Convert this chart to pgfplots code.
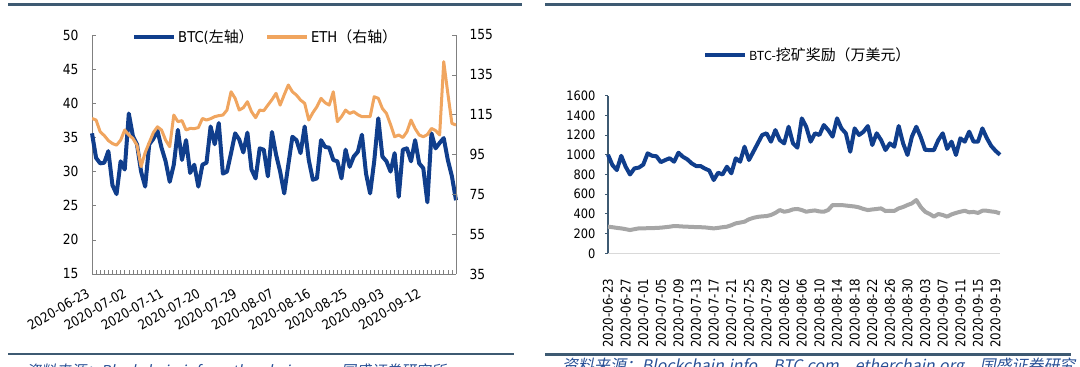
\documentclass[border=0pt]{standalone}
\usepackage{pgfplots}
\pgfplotsset{compat=1.18}
\usepackage{pgfplotstable}
\usepackage{fontspec}
\setmainfont{DejaVu Sans}
\newfontfamily\tickfont{DejaVu Sans}[FakeStretch=0.88]
\newfontfamily\cjk{Noto Sans CJK SC}
\newfontfamily\srcfont{Noto Sans CJK SC}[FakeSlant=0.2]
\definecolor{btcblue}{RGB}{16,62,140}
\definecolor{ethorange}{RGB}{240,165,95}
\definecolor{minegray}{RGB}{166,166,166}
\definecolor{rulecol}{RGB}{62,90,114}
\definecolor{srcblue}{RGB}{40,80,150}
\definecolor{axgray}{RGB}{128,128,128}

\pgfplotstableread{
d btc eth
0 35.6 113.1
1 32.0 112.3
2 31.2 106.4
3 31.3 104.5
4 33.0 102.0
5 28.0 100.5
6 26.7 99.7
7 31.5 102.2
8 30.3 107.3
9 38.5 104.8
10 35.2 103.1
11 34.0 99.7
12 30.0 88.9
13 27.8 96.0
14 34.0 101.0
15 34.8 106.0
16 36.0 108.9
17 33.5 107.3
18 31.5 102.2
19 28.5 98.9
20 31.0 114.8
21 36.1 111.5
22 31.7 112.0
23 34.6 107.3
24 29.8 108.1
25 31.0 108.0
26 27.8 108.5
27 31.0 113.1
28 31.3 112.3
29 36.6 113.0
30 34.0 114.0
31 37.1 114.5
32 29.7 114.8
33 30.0 117.3
34 32.7 126.5
35 35.6 123.2
36 34.7 117.3
37 32.8 118.5
38 35.7 121.5
39 30.3 116.5
40 29.0 113.5
41 33.4 117.3
42 33.2 117.0
43 29.3 119.8
44 35.8 122.5
45 32.5 125.7
46 30.0 119.8
47 26.8 125.0
48 31.0 129.9
49 35.1 126.5
50 34.6 124.8
51 32.7 122.3
52 36.6 120.7
53 31.7 112.3
54 28.8 116.0
55 29.0 119.0
56 34.6 123.2
57 33.6 121.0
58 33.5 119.8
59 31.7 126.5
60 31.5 111.5
61 29.0 114.0
62 33.2 117.3
63 30.7 115.6
64 32.2 116.5
65 32.9 115.0
66 35.4 114.0
67 29.7 114.0
68 26.8 114.0
69 31.5 124.0
70 37.8 123.2
71 32.2 118.1
72 31.5 115.6
73 30.0 110.0
74 32.7 103.9
75 26.3 104.8
76 33.2 103.5
77 33.4 106.4
78 31.5 112.3
79 34.6 108.0
80 31.2 104.8
81 30.5 103.9
82 25.5 105.0
83 35.6 108.1
84 33.4 107.0
85 34.2 104.8
86 34.9 141.6
87 31.7 125.7
88 29.3 110.6
89 25.8 109.8
}\leftdata

\pgfplotstableread{
d blue gray
0 1000 270
1 896 265
2 845 258
3 990 253
4 880 245
5 800 236
6 862 245
7 870 253
8 900 253
9 1015 255
10 990 255
11 985 258
12 925 260
13 947 265
14 965 270
15 930 277
16 1021 275
17 980 272
18 954 270
19 913 268
20 886 266
21 886 265
22 860 263
23 840 258
24 744 253
25 818 258
26 800 265
27 879 270
28 812 285
29 964 304
30 930 312
31 1082 321
32 947 345
33 1031 360
34 1116 370
35 1201 375
36 1218 378
37 1133 389
38 1251 410
39 1150 439
40 1116 422
41 1285 430
42 1116 446
43 1072 450
44 1370 439
45 1285 422
46 1133 430
47 1218 435
48 1201 425
49 1302 422
50 1251 440
51 1184 490
52 1370 490
53 1268 490
54 1218 485
55 1031 480
56 1268 475
57 1201 466
58 1234 450
59 1292 439
60 1099 445
61 1218 450
62 1150 456
63 1048 429
64 1116 432
65 1082 430
66 1292 456
67 1116 470
68 998 490
69 1184 507
70 1285 541
71 1180 470
72 1050 422
73 1048 400
74 1048 372
75 1150 399
76 1218 389
77 1060 372
78 1133 395
79 998 410
80 1167 422
81 1133 432
82 1235 416
83 1133 420
84 1133 410
85 1268 432
86 1170 432
87 1090 425
88 1040 420
89 1000 405
}\rightdata

\begin{document}
\begin{tikzpicture}
\path[use as bounding box] (0bp,0bp) rectangle (1080bp,367bp);

% header / footer rules
\draw[rulecol, line width=3bp] (8bp,362bp) -- (522bp,362bp);
\draw[rulecol, line width=3bp] (545bp,362bp) -- (1071bp,362bp);
\draw[rulecol, line width=2.5bp] (8bp,13bp) -- (514bp,13bp);
\draw[rulecol, line width=2.5bp] (545bp,12.5bp) -- (1071bp,12.5bp);

% source notes (cut by the page edge)
\node[anchor=base west, inner sep=0, text=srcblue, font=\srcfont\fontsize{15}{15}\selectfont] at (26bp,-9bp) {资料来源：Blockchain.info、etherchain.org、国盛证券研究所};
\node[anchor=base west, inner sep=0, text=srcblue, font=\srcfont\fontsize{16}{16}\selectfont] at (562bp,-4bp) {资料来源：Blockchain.info、BTC.com、etherchain.org、国盛证券研究};

% ---------------- left panel: BTC (left axis) ----------------
\begin{axis}[
  at={(92bp,93bp)}, anchor=south west,
  scale only axis, width=364bp, height=239bp,
  xmin=0, xmax=89, ymin=15, ymax=50,
  axis x line*=bottom, axis y line*=left,
  axis line style={draw=axgray, line width=0.8bp, -},
  ytick={15,20,...,50},
  xtick={0,9,...,81},
  xticklabels={2020-06-23,2020-07-02,2020-07-11,2020-07-20,2020-07-29,2020-08-07,2020-08-16,2020-08-25,2020-09-03,2020-09-12},
  minor xtick={0,1,...,89},
  tick align=inside, major tick length=4bp, minor tick length=4bp,
  tick style={draw=axgray, line width=0.6bp},
  /pgf/number format/assume math mode=true,
  y tick label style={font=\tickfont\fontsize{14}{14}\selectfont, xshift=-10bp},
  x tick label style={font=\tickfont\fontsize{13.5}{14}\selectfont, xshift=-5bp, rotate=30, anchor=north east},
  xticklabel shift=9bp,
  legend style={at={(0.11,0.992)}, anchor=west, draw=none, fill=none, inner sep=0pt,
    font=\tickfont\fontsize{15}{15}\selectfont, legend columns=2,
    /tikz/every even column/.append style={column sep=10bp}},
  legend image code/.code={\draw[#1] (0bp,0bp) -- (40bp,0bp);},
  clip=false,
]
\addplot[btcblue, line width=4bp, line join=round] table[x=d, y=btc] {\leftdata};
\addlegendentry{BTC({\cjk 左轴）}}
\addlegendimage{ethorange, line width=3.5bp}
\addlegendentry{ETH{\cjk（右轴）}}
\end{axis}

% ---------------- left panel: ETH (right axis) ----------------
\begin{axis}[
  at={(92bp,93bp)}, anchor=south west,
  scale only axis, width=364bp, height=239bp,
  xmin=0, xmax=89, ymin=35, ymax=155,
  axis x line=none, axis y line*=right,
  axis line style={draw=axgray, line width=0.8bp, -},
  ytick={35,55,...,155},
  tick align=inside, major tick length=4bp,
  tick style={draw=axgray, line width=0.6bp},
  /pgf/number format/assume math mode=true,
  y tick label style={font=\tickfont\fontsize{14}{14}\selectfont, xshift=10bp},
]
\addplot[ethorange, line width=3bp, line join=round] table[x=d, y=eth] {\leftdata};
\end{axis}

% ---------------- right panel: mining reward ----------------
\begin{axis}[
  at={(608bp,113.7bp)}, anchor=south west,
  scale only axis, width=392bp, height=157.6bp,
  xmin=0, xmax=89, ymin=0, ymax=1600,
  axis x line*=bottom, axis y line*=left,
  x axis line style={draw=black!15, line width=1.2bp, -},
  y axis line style={draw=rulecol, line width=1.5bp, -},
  ytick={0,200,...,1600},
  xtick={0,4,...,88},
  xticklabels={2020-06-23,2020-06-27,2020-07-01,2020-07-05,2020-07-09,2020-07-13,2020-07-17,2020-07-21,2020-07-25,2020-07-29,2020-08-02,2020-08-06,2020-08-10,2020-08-14,2020-08-18,2020-08-22,2020-08-26,2020-08-30,2020-09-03,2020-09-07,2020-09-11,2020-09-15,2020-09-19},
  x tick style={draw=none},
  y tick style={draw=rulecol, line width=0.8bp},
  tick align=outside, major tick length=3bp,
  /pgf/number format/assume math mode=true,
  /pgf/number format/1000 sep={},
  y tick label style={font=\tickfont\fontsize{13}{13}\selectfont, xshift=-6bp},
  x tick label style={font=\tickfont\fontsize{13.5}{13.5}\selectfont, rotate=90, anchor=east},
  xticklabel shift=19bp,
  legend style={at={(0.242,1.258)}, anchor=west, draw=none, fill=none, inner sep=0pt,
    font=\cjk\fontsize{15}{15}\selectfont},
  legend image code/.code={\draw[#1] (0bp,0bp) -- (40bp,0bp);},
  clip=false,
]
\addplot[minegray, line width=4bp, line join=round, forget plot] table[x=d, y=gray] {\rightdata};
\addplot[btcblue, line width=4bp, line join=round] table[x=d, y=blue] {\rightdata};
\addlegendentry{{\fontsize{12.5}{12.5}\selectfont BTC-}挖矿奖励（万美元）}
\end{axis}
\end{tikzpicture}
\end{document}
